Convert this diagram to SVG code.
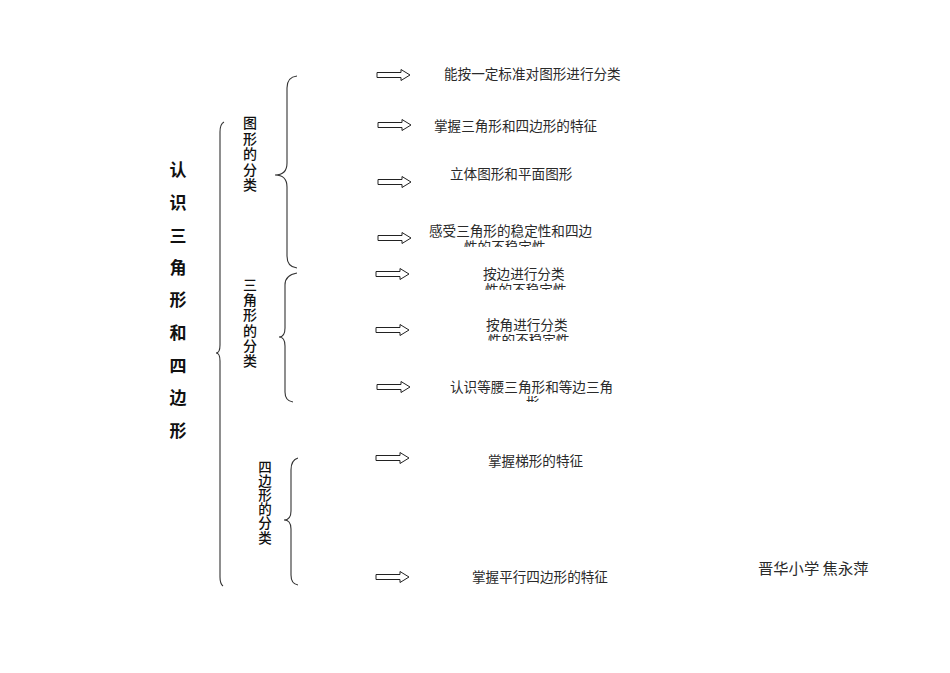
<svg xmlns="http://www.w3.org/2000/svg" width="950" height="673" viewBox="0 0 950 673">
<style>
.t{font-family:"Noto Sans CJK SC","Liberation Sans",sans-serif;font-size:13.6px;fill:#2a2a2a}
.v{font-family:"Noto Sans CJK SC","Liberation Sans",sans-serif;font-size:14px;font-weight:500;fill:#111;text-anchor:middle}
.v2{font-family:"Noto Sans CJK SC","Liberation Sans",sans-serif;font-size:13.5px;font-weight:500;fill:#111;text-anchor:middle}
.ttl{font-family:"Noto Sans CJK SC","Liberation Sans",sans-serif;font-size:17px;font-weight:bold;fill:#111;text-anchor:middle}
.au{font-family:"Noto Sans CJK SC","Liberation Sans",sans-serif;font-size:15.3px;fill:#2a2a2a}
.br{fill:none;stroke:#333;stroke-width:1.1}
.ar{fill:#fff;stroke:#222;stroke-width:1}
</style>
<defs>
<path id="arw" class="ar" d="M0,-2.5 L24,-2.5 L24,-5.5 L33,0 L24,5.5 L24,2.5 L0,2.5 Z"/>
<clipPath id="c1"><rect x="400" y="239" width="250" height="8"/></clipPath>
<clipPath id="c2"><rect x="400" y="283" width="250" height="7"/></clipPath>
<clipPath id="c3"><rect x="400" y="334" width="250" height="7"/></clipPath>
<clipPath id="c4"><rect x="400" y="396" width="250" height="6"/></clipPath>
</defs>
<rect width="950" height="673" fill="#fff"/>

<g id="title">
<text class="ttl">
<tspan x="178" y="176">认</tspan><tspan x="178" y="209">识</tspan><tspan x="178" y="242">三</tspan><tspan x="178" y="274">角</tspan><tspan x="178" y="306">形</tspan><tspan x="178" y="339">和</tspan><tspan x="178" y="372">四</tspan><tspan x="178" y="404">边</tspan><tspan x="178" y="437">形</tspan>
</text>
</g>

<g id="cat-shapes">
<text class="v"><tspan x="250" y="128">图</tspan><tspan x="250" y="143.5">形</tspan><tspan x="250" y="159">的</tspan><tspan x="250" y="174.5">分</tspan><tspan x="250" y="190">类</tspan></text>
</g>
<g id="cat-triangle">
<text class="v"><tspan x="250" y="290">三</tspan><tspan x="250" y="305">角</tspan><tspan x="250" y="320">形</tspan><tspan x="250" y="335.5">的</tspan><tspan x="250" y="350.5">分</tspan><tspan x="250" y="366">类</tspan></text>
</g>
<g id="cat-quad">
<text class="v2"><tspan x="265" y="471.5">四</tspan><tspan x="265" y="485.7">边</tspan><tspan x="265" y="499.9">形</tspan><tspan x="265" y="514.1">的</tspan><tspan x="265" y="528.3">分</tspan><tspan x="265" y="542.5">类</tspan></text>
</g>

<g id="connectors">
<path class="br" d="M224,122 Q220,124 220,132 L220,345 Q220,353 216,353 Q220,353 220,361 L220,577 Q220,584 223,586"/>
<path class="br" d="M297,76 Q287,77 287,88 L287,163 Q287,175 275,175 Q287,175 287,187 L287,256 Q287,267 297,268"/>
<path class="br" d="M297,273 Q285,275 285,285 L285,328 Q285,337 279,337 Q285,337 285,346 L285,392 Q285,401 293,402"/>
<path class="br" d="M298,458 Q291,460 291,470 L291,511 Q291,520 284,520 Q291,520 291,529 L291,575 Q291,584 298,585"/>
<use href="#arw" x="377" y="75"/>
<use href="#arw" x="378" y="125"/>
<use href="#arw" x="378" y="182"/>
<use href="#arw" x="378" y="238"/>
<use href="#arw" x="376" y="274"/>
<use href="#arw" x="376" y="330"/>
<use href="#arw" x="377" y="387"/>
<use href="#arw" x="376" y="458"/>
<use href="#arw" x="376" y="577"/>
</g>

<g id="n1"><text class="t" x="444" y="79">能按一定标准对图形进行分类</text></g>
<g id="n2"><text class="t" x="434" y="131">掌握三角形和四边形的特征</text></g>
<g id="n3"><text class="t" x="450" y="179">立体图形和平面图形</text></g>
<g id="n4"><text class="t" x="429" y="236">感受三角形的稳定性和四边</text>
<text class="t" x="464" y="252" clip-path="url(#c1)">性的不稳定性</text></g>
<g id="n5"><text class="t" x="483" y="279">按边进行分类</text>
<text class="t" x="485" y="295" clip-path="url(#c2)">性的不稳定性</text></g>
<g id="n6"><text class="t" x="486" y="330">按角进行分类</text>
<text class="t" x="488" y="345" clip-path="url(#c3)">性的不稳定性</text></g>
<g id="n7"><text class="t" x="450" y="392">认识等腰三角形和等边三角</text>
<text class="t" x="526" y="406" clip-path="url(#c4)">形</text></g>
<g id="n8"><text class="t" x="488" y="466">掌握梯形的特征</text></g>
<g id="n9"><text class="t" x="472" y="582">掌握平行四边形的特征</text></g>
<g id="author"><text class="au" x="758" y="574">晋华小学 焦永萍</text></g>
</svg>
